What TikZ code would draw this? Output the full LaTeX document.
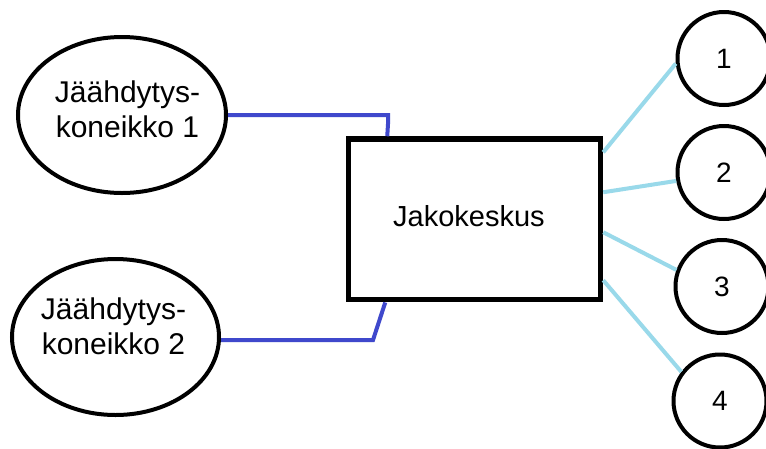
\documentclass[tikz,border=0pt]{standalone}
\usepackage{fontspec}
\setmainfont{Liberation Sans}
\usetikzlibrary{shapes.geometric,calc}
\definecolor{darkblue}{RGB}{63,72,204}
\definecolor{lightblue}{RGB}{153,217,234}
\begin{document}
\begin{tikzpicture}[x=1pt,y=-1pt,
  ellbox/.style={draw,ellipse,line width=4pt,inner sep=0pt,minimum width=208pt,minimum height=156pt},
  roundbox/.style={draw,circle,line width=4pt,inner sep=0pt,minimum size=93pt,font=\fontsize{28}{32}\selectfont},
  mainbox/.style={draw,rectangle,line width=5.5pt,inner sep=0pt,minimum width=252pt,minimum height=160.7pt},
  lbl/.style={inner sep=0pt,align=center,font=\fontsize{30}{35}\selectfont},
  blueline/.style={draw=darkblue,line width=4pt},
  cyanline/.style={draw=lightblue,line width=4pt}]
\useasboundingbox (0,0) rectangle (766,448);
\fill[white] (0,0) rectangle (766,448);
\node[ellbox] (e1) at (122,115) {};
\node[ellbox,minimum width=207pt] (e2) at (115.5,337) {};
\node[lbl] (t1) at (127.5,109) {Jäähdytys-\\koneikko 1};
\node[lbl] (t2) at (113.5,326) {Jäähdytys-\\koneikko 2};
\node[mainbox] (jk) at (474.5,219.35) {};
\node[lbl,font=\fontsize{29}{34}\selectfont] (jt) at (469,216.5) {Jakokeskus};
\node[roundbox] (c1) at (724,58.5) {1};
\node[roundbox] (c2) at (724,172.5) {2};
\node[roundbox] (c3) at (722,286.5) {3};
\node[roundbox] (c4) at (720,401) {4};
\draw[blueline] (e1.east) -- (388,115) -- (388,124) -- ($(jk.north west)+(41.5,0)$);
\draw[blueline] (e2.east |- 0,340) -- (373,340) -- ($(jk.south west)+(39.5,0)$);
\draw[cyanline] ($(jk.north east)+(0,16)$) -- (c1.186);
\draw[cyanline] ($(jk.north east)+(0,56)$) -- (c2.190);
\draw[cyanline] ($(jk.north east)+(0,96)$) -- (c3.160);
\draw[cyanline] ($(jk.north east)+(0,144)$) -- (c4.143);
\end{tikzpicture}
\end{document}
